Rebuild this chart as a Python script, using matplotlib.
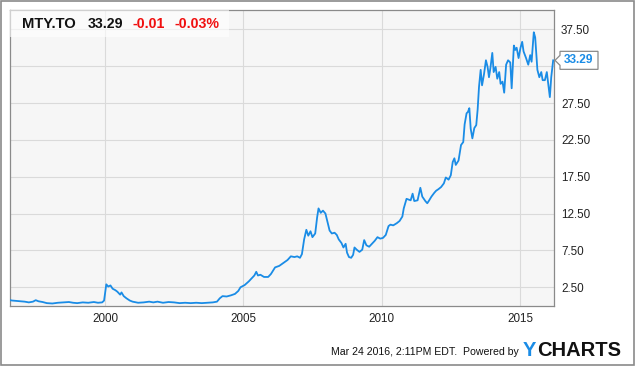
import matplotlib
matplotlib.use("Agg")
import matplotlib.pyplot as plt
from matplotlib.patches import Rectangle, Polygon

plt.rcParams["font.family"] = ["Liberation Sans", "DejaVu Sans"]

# --- MTY.TO share price (CAD), decimal years ------------------------------
t = [1996.57, 1996.65, 1996.8, 1996.95, 1997.1, 1997.25, 1997.4, 1997.5,
     1997.6, 1997.75, 1997.9, 1998.1, 1998.3, 1998.5, 1998.7, 1998.85,
     1999.0, 1999.2, 1999.4, 1999.6, 1999.75, 1999.9, 1999.97, 2000.05,
     2000.12, 2000.2, 2000.28, 2000.38, 2000.45, 2000.55, 2000.6, 2000.68,
     2000.78, 2000.9, 2001.0, 2001.2, 2001.4, 2001.6, 2001.75, 2001.9,
     2002.1, 2002.3, 2002.5, 2002.7, 2002.9, 2003.1, 2003.3, 2003.5,
     2003.7, 2003.9, 2004.05, 2004.15, 2004.25, 2004.4, 2004.55, 2004.7,
     2004.82, 2004.9, 2005.05, 2005.2, 2005.3, 2005.4, 2005.47, 2005.53,
     2005.62, 2005.75, 2005.9, 2006.0, 2006.15, 2006.3, 2006.45, 2006.6,
     2006.72, 2006.85, 2006.95, 2007.05, 2007.12, 2007.2, 2007.28, 2007.35,
     2007.43, 2007.5, 2007.6, 2007.67, 2007.72, 2007.8, 2007.88, 2007.97,
     2008.05, 2008.12, 2008.2, 2008.3, 2008.38, 2008.45, 2008.55, 2008.62,
     2008.7, 2008.75, 2008.82, 2008.9, 2008.97, 2009.02, 2009.1, 2009.2,
     2009.3, 2009.37, 2009.45, 2009.55, 2009.65, 2009.75, 2009.85, 2009.95,
     2010.05, 2010.15, 2010.25, 2010.32, 2010.42, 2010.55, 2010.65, 2010.75,
     2010.8, 2010.9, 2010.97, 2011.05, 2011.12, 2011.18, 2011.3, 2011.4,
     2011.47, 2011.58, 2011.65, 2011.72, 2011.8, 2011.9, 2011.97, 2012.05,
     2012.15, 2012.25, 2012.32, 2012.42, 2012.5, 2012.57, 2012.63, 2012.68,
     2012.78, 2012.87, 2012.95, 2013.0, 2013.07, 2013.12, 2013.17, 2013.22,
     2013.28, 2013.35, 2013.42, 2013.47, 2013.52, 2013.58, 2013.63, 2013.7,
     2013.77, 2013.83, 2013.88, 2013.93, 2014.0, 2014.05, 2014.12, 2014.18,
     2014.25, 2014.3, 2014.37, 2014.43, 2014.5, 2014.57, 2014.65, 2014.7,
     2014.78, 2014.83, 2014.88, 2014.95, 2015.02, 2015.08, 2015.13, 2015.22,
     2015.3, 2015.37, 2015.42, 2015.5, 2015.55, 2015.63, 2015.7, 2015.77,
     2015.82, 2015.9, 2015.97, 2016.03, 2016.08, 2016.13, 2016.2]
price = [0.75, 0.7, 0.65, 0.6, 0.55, 0.45, 0.55, 0.75,
         0.6, 0.5, 0.35, 0.3, 0.4, 0.45, 0.5, 0.4,
         0.35, 0.45, 0.4, 0.5, 0.4, 0.45, 0.7, 2.9,
         2.6, 2.75, 2.3, 2.1, 1.9, 1.5, 1.8, 1.3,
         1.0, 0.7, 0.55, 0.4, 0.45, 0.55, 0.45, 0.55,
         0.4, 0.5, 0.45, 0.35, 0.4, 0.35, 0.4, 0.35,
         0.4, 0.45, 0.55, 1.0, 1.3, 1.25, 1.4, 1.6,
         2.0, 2.5, 2.8, 3.3, 3.7, 4.1, 4.6, 4.1,
         4.2, 3.9, 3.9, 4.3, 5.2, 5.4, 5.8, 6.2,
         6.7, 6.6, 6.7, 6.5, 7.0, 9.0, 10.3, 9.5,
         10.1, 9.3, 9.8, 12.0, 13.2, 12.6, 12.9, 12.5,
         11.3, 10.2, 9.8, 9.9, 9.6, 9.0, 8.5, 7.9,
         8.4, 7.2, 6.6, 6.5, 6.9, 7.9, 7.6, 7.3,
         7.6, 8.9, 8.2, 8.0, 8.4, 8.8, 9.3, 9.1,
         9.2, 9.6, 10.8, 11.0, 10.9, 11.2, 11.5, 12.1,
         13.2, 14.5, 14.4, 14.3, 15.2, 14.2, 14.3, 16.0,
         14.8, 14.2, 13.9, 14.3, 14.8, 15.3, 15.6, 15.8,
         16.1, 16.6, 17.4, 17.1, 17.7, 19.5, 20.0, 19.1,
         19.7, 21.8, 22.2, 24.6, 26.1, 26.3, 26.8, 24.0,
         22.7, 24.1, 24.5, 26.6, 29.7, 32.0, 29.9, 31.4,
         33.3, 32.4, 31.0, 32.2, 34.3, 31.7, 32.4, 30.8,
         31.7, 30.1, 30.4, 28.9, 32.7, 33.3, 33.0, 29.5,
         35.3, 34.7, 35.0, 33.6, 35.0, 35.8, 34.5, 33.6,
         32.7, 34.0, 33.1, 37.1, 36.4, 32.0, 31.0, 31.7,
         30.6, 30.6, 31.7, 29.9, 28.3, 31.0, 33.29]

ticker = "MTY.TO"
last_price = "33.29"
change = "-0.01"
change_pct = "-0.03%"
stamp = "Mar 24 2016, 2:11PM EDT."

x_ticks = [2000, 2005, 2010, 2015]
y_ticks = [2.5, 7.5, 12.5, 17.5, 22.5, 27.5, 32.5, 37.5]
y_labels = ["2.50", "7.50", "12.50", "17.50", "22.50", "27.50", "", "37.50"]

BLUE = "#1a8ce6"
GRID = "#dadada"
EDGE = "#8a8a8a"

fig = plt.figure(figsize=(6.35, 3.66), dpi=100)
fig.patch.set_facecolor("white")
W, H = 635, 366
ax = fig.add_axes([10 / W, 60 / H, 544 / W, 296 / H])
ax.set_facecolor("#f6f6f6")

ax.plot(t, price, color=BLUE, lw=1.3, zorder=3)

ax.set_xlim(1996.57, 2016.23)
ax.set_ylim(-0.04, 40.12)
ax.set_xticks(x_ticks)
ax.set_xticklabels([str(x) for x in x_ticks])
ax.set_yticks(y_ticks)
ax.set_yticklabels(y_labels)
ax.yaxis.tick_right()
ax.tick_params(length=0, labelsize=8.4, colors="#222222")
ax.tick_params(axis="x", pad=5)
ax.tick_params(axis="y", pad=5)
ax.grid(True, color=GRID, lw=0.8, zorder=0)
ax.set_axisbelow(True)
for s in ax.spines.values():
    s.set_color(EDGE)
    s.set_linewidth(0.9)

# header box with quote
ax.add_patch(Rectangle((0, 0.909), 0.403, 0.091, transform=ax.transAxes,
                       facecolor="white", alpha=0.6, lw=0, zorder=4))
yb = 0.938
ax.text(0.0215, yb, ticker, transform=ax.transAxes, fontsize=10.6,
        fontweight="bold", color="#111111", va="baseline", zorder=5)
ax.text(0.1434, yb, last_price, transform=ax.transAxes, fontsize=10.2,
        fontweight="bold", color="#111111", va="baseline", zorder=5)
ax.text(0.226, yb, change, transform=ax.transAxes, fontsize=10.2,
        fontweight="bold", color="#f01010", va="baseline", zorder=5)
ax.text(0.3015, yb, change_pct, transform=ax.transAxes, fontsize=10.2,
        fontweight="bold", color="#f01010", va="baseline", zorder=5)

# last price callout at the right axis
ax0, ay0 = ax.get_yaxis_transform().transform((1.0, price[-1]))
callout = [(0, 0), (5, 5), (5, 9), (43, 9), (43, -9), (5, -9), (5, -5)]
ax.add_patch(Polygon([(ax0 + 1 + dx, ay0 + dy) for dx, dy in callout],
                     closed=True, transform=None, facecolor="white",
                     edgecolor=EDGE, lw=0.9, clip_on=False, zorder=6))
ax.text(ax0 + 25, ay0, last_price, transform=None, ha="center", va="center",
        fontsize=8.6, fontweight="bold", color=BLUE, zorder=7, clip_on=False)

# footer
fig.text(331 / W, 1 - 352 / H, stamp, fontsize=7.6,
         color="#111111", va="center", ha="left")
fig.text(519 / W, 1 - 352 / H, "Powered by", fontsize=7.6,
         color="#111111", va="center", ha="right")
fig.text(523 / W, 1 - 350 / H, "Y", fontsize=14.5, fontweight="bold",
         color=BLUE, va="center", ha="left")
fig.text(537 / W, 1 - 350 / H, "CHARTS", fontsize=14.5, fontweight="bold",
         color="#111111", va="center", ha="left")

# outer frame
fig.patches.append(Rectangle((1 / W, 1 / H), 633 / W, 364 / H,
                             transform=fig.transFigure, fill=False,
                             edgecolor=EDGE, lw=1.2))

fig.savefig("out.png", dpi=100)
